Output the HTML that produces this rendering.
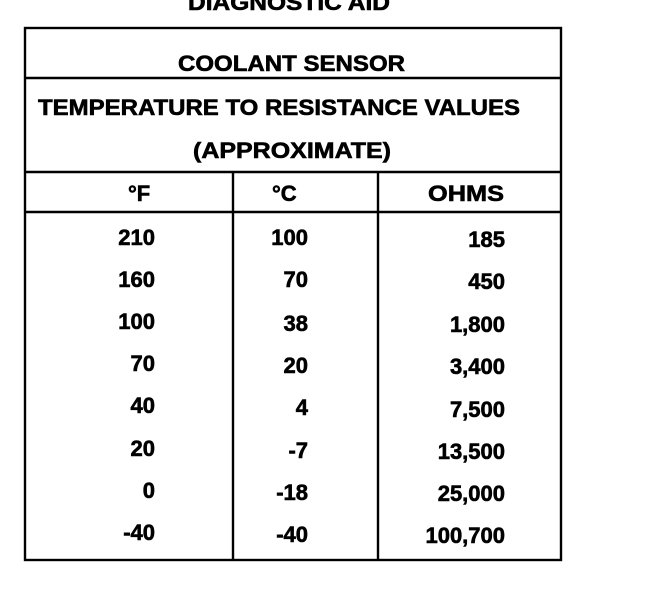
<!DOCTYPE html>
<html><head><meta charset="utf-8"><style>
html,body{margin:0;padding:0;background:#fff;}
svg{display:block;}
text{font-family:"Liberation Sans",sans-serif;font-weight:bold;fill:#000;stroke:#000;stroke-width:0.6;}
</style></head><body>
<svg width="650" height="596" viewBox="0 0 650 596" xmlns="http://www.w3.org/2000/svg">
<g stroke="#000" stroke-width="2.4" fill="none">
<rect x="25" y="28" width="536" height="532"/>
<line x1="25" y1="78" x2="561" y2="78"/>
<line x1="25" y1="172" x2="561" y2="172"/>
<line x1="25" y1="212" x2="561" y2="212"/>
<line x1="233" y1="172" x2="233" y2="560"/>
<line x1="378" y1="172" x2="378" y2="560"/>
</g>
<g font-size="22">
<text x="188" y="10" textLength="202" lengthAdjust="spacingAndGlyphs">DIAGNOSTIC AID</text>
<text x="178" y="71" textLength="227" lengthAdjust="spacingAndGlyphs">COOLANT SENSOR</text>
<text x="38" y="115" textLength="482" lengthAdjust="spacingAndGlyphs">TEMPERATURE TO RESISTANCE VALUES</text>
<text x="193" y="158" textLength="198" lengthAdjust="spacingAndGlyphs">(APPROXIMATE)</text>
<text x="128" y="201">°F</text>
<text x="272" y="201">°C</text>
<text x="428" y="201" textLength="76" lengthAdjust="spacingAndGlyphs">OHMS</text>
</g>
<g font-size="22" text-anchor="end">
<text x="155" y="245">210</text><text x="308" y="245">100</text><text x="505" y="247">185</text>
<text x="155" y="287">160</text><text x="308" y="287">70</text><text x="505" y="289">450</text>
<text x="155" y="329">100</text><text x="308" y="331">38</text><text x="505" y="332">1,800</text>
<text x="155" y="371">70</text><text x="308" y="373">20</text><text x="505" y="374">3,400</text>
<text x="155" y="413">40</text><text x="308" y="415">4</text><text x="505" y="417">7,500</text>
<text x="155" y="456">20</text><text x="308" y="458">-7</text><text x="505" y="459">13,500</text>
<text x="155" y="498">0</text><text x="308" y="500">-18</text><text x="505" y="501">25,000</text>
<text x="155" y="540">-40</text><text x="308" y="542">-40</text><text x="505" y="543">100,700</text>
</g>
</svg>
</body></html>
